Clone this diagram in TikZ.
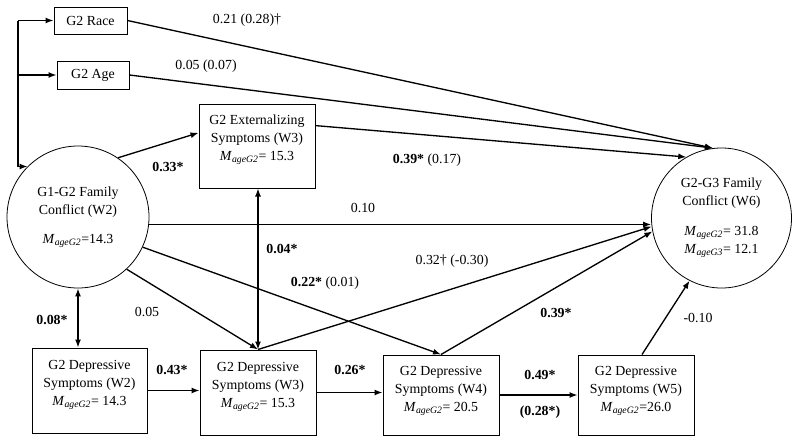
\documentclass[tikz,border=0pt]{standalone}
\usepackage{fontspec}
\setmainfont{Liberation Serif}
\usetikzlibrary{arrows.meta,calc}
\newcommand\mage[1]{\textit{M}\textsubscript{\textit{age#1}}}
\begin{document}
\begin{tikzpicture}[x=0.75pt,y=-0.75pt,
  every node/.style={font=\fontsize{10.4}{13.5}\selectfont},
  box/.style={draw, line width=0.75pt, inner sep=0pt},
  boxtext/.style={align=center, anchor=north, inner sep=0pt},
  circ/.style={draw, circle, line width=0.6pt, inner sep=0pt, align=center},
  arr/.style={line width=1pt, -{Latex[length=6pt,width=4.5pt]}},
  darr/.style={line width=1pt, {Latex[length=6pt,width=4.5pt]}-{Latex[length=6pt,width=4.5pt]}},
  plain/.style={line width=1pt},
  coef/.style={inner sep=1pt}]
\useasboundingbox (0,0) rectangle (800,443);

% boxes
\node[box, minimum width=54.75pt, minimum height=20.25pt] (race) at (90.5,20.5) {G2 Race};
\node[box, minimum width=54pt, minimum height=21pt] (age) at (93,75) {G2 Age};
\node[box, minimum width=87pt, minimum height=63pt] (ext) at (257,146) {};
\node[boxtext] (extt) at ([yshift=-8.5pt]ext.north) {G2 Externalizing\\Symptoms (W3)\\\mage{G2}= 15.3};
\node[box, minimum width=86.25pt, minimum height=63.75pt] (w2) at (89.5,390.5) {};
\node[boxtext] (w2t) at ([yshift=-9.5pt]w2.north) {G2 Depressive\\Symptoms (W2)\\\mage{G2}= 14.3};
\node[box, minimum width=87pt, minimum height=63.75pt] (w3) at (258,392.5) {};
\node[boxtext] (w3t) at ([yshift=-9.5pt]w3.north) {G2 Depressive\\Symptoms (W3)\\\mage{G2}= 15.3};
\node[box, minimum width=87pt, minimum height=60pt] (w4) at (441,395) {};
\node[boxtext] (w4t) at ([yshift=-8.5pt]w4.north) {G2 Depressive\\Symptoms (W4)\\\mage{G2}= 20.5};
\node[box, minimum width=87pt, minimum height=60pt] (w5) at (636,395) {};
\node[boxtext] (w5t) at ([yshift=-8.5pt]w5.north) {G2 Depressive\\Symptoms (W5)\\\mage{G2}=26.0};

% circles
\node[circ, minimum size=106.5pt] (c1) at (78,217) {G1-G2 Family\\Conflict (W2)\\[8pt]\mage{G2}=14.3};
\node[circ, minimum size=105pt] (c2) at (721.5,218) {G2-G3 Family\\Conflict (W6)\\[9pt]\mage{G2}= 31.8\\\mage{G3}= 12.1};

% bus on the left
\coordinate (bus) at (18,20);
\draw[plain] (bus |- race.west) -- (bus |- c1.135);
\draw[arr] (bus |- race.west) -- (race.west);
\draw[arr] (bus |- age.west) -- (age.west);
\draw[arr] (bus |- c1.135) -- (c1.135);

% paths
\draw[arr] (race.east) -- (c2.97);
\draw[arr] (age.east) -- (c2.97);
\draw[arr] ($(ext.north east)!0.52!(ext.east)$) -- (c2.120);
\draw[arr] (c1.56) -- ($(ext.north west)!0.69!(ext.west)$);
\draw[arr] (c1.-6) -- (c1.-6 -| c2.west);
\draw[darr] (c1.south) -- (c1.south |- w2.north);
\draw[darr] (ext.south -| w3.north) -- (w3.north);
\draw[arr] (c1.-47) -- (w3.north);
\draw[arr] (c1.-25) -- (w4.north);
\draw[arr] (w3.north) -- (c2.187);
\draw[arr] (w4.north) -- (c2.191);
\draw[arr] ($(w5.north)+(6,0)$) -- (c2.243);
\draw[arr] (w2.east) -- (w2.east -| w3.west);
\draw[arr] (w3.east) -- (w3.east -| w4.west);
\draw[arr] (w4.east) -- (w4.east -| w5.west);

% coefficients
\node[coef] (k1) at (247,20) {0.21 (0.28)†};
\node[coef] (k2) at (206,66) {0.05 (0.07)};
\node[coef] (k3) at (168,167) {\textbf{0.33*}};
\node[coef] (k4) at (427,160) {\textbf{0.39*} (0.17)};
\node[coef] (k5) at (363,208) {0.10};
\node[coef] (k6) at (282,249) {\textbf{0.04*}};
\node[coef] (k7) at (452,261) {0.32† (-0.30)};
\node[coef] (k8) at (325,283) {\textbf{0.22*} (0.01)};
\node[coef] (k9) at (147,312) {0.05};
\node[coef] (k10) at (52,320) {\textbf{0.08*}};
\node[coef] (k11) at (556,313) {\textbf{0.39*}};
\node[coef] (k12) at (698,318) {-0.10};
\node[coef] (k13) at (172,370) {\textbf{0.43*}};
\node[coef] (k14) at (350,370) {\textbf{0.26*}};
\node[coef] (k15) at (540,375) {\textbf{0.49*}};
\node[coef] (k16) at (540,412) {\textbf{(0.28*)}};
\end{tikzpicture}
\end{document}
